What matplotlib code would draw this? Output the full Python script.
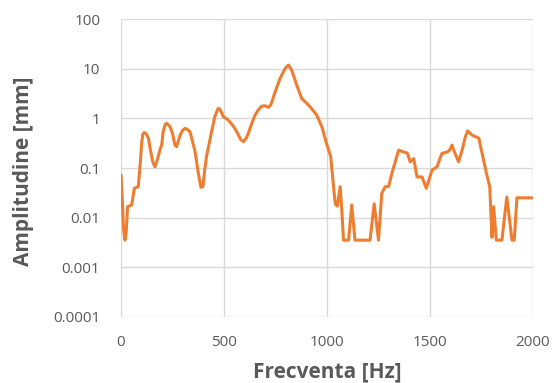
import matplotlib
matplotlib.use("Agg")
import matplotlib.pyplot as plt
from matplotlib.ticker import FixedLocator, FixedFormatter, NullLocator

freq = [0, 5, 12, 19, 25, 32, 52, 65, 84, 95, 100, 106, 113, 124, 133, 143, 155, 165,
        175, 189, 198, 205, 214, 222, 238, 250, 262, 270, 287, 300, 311, 322, 335, 359,
        375, 388, 398, 406, 415, 431, 455, 471, 480, 497, 515, 529, 545, 562, 580, 594,
        608, 618, 635, 651, 667, 683, 700, 716, 728, 748, 772, 797, 813, 829, 853, 877,
        900, 918, 935, 950, 975, 999, 1018, 1030, 1040, 1050, 1064, 1072, 1080, 1105,
        1120, 1136, 1209, 1229, 1250, 1266, 1283, 1299, 1315, 1348, 1372, 1390, 1404,
        1421, 1437, 1461, 1482, 1510, 1534, 1558, 1583, 1595, 1607, 1615, 1639, 1656,
        1672, 1683, 1704, 1737, 1753, 1774, 1790, 1801, 1809, 1822, 1849, 1873, 1898,
        1909, 1922, 2000]
amp = [0.072, 0.03, 0.006, 0.0035, 0.005, 0.0166, 0.018, 0.039, 0.042, 0.15, 0.31, 0.48,
       0.52, 0.48, 0.40, 0.23, 0.13, 0.106, 0.14, 0.23, 0.30, 0.55, 0.75, 0.80, 0.68,
       0.50, 0.29, 0.27, 0.46, 0.58, 0.63, 0.60, 0.54, 0.22, 0.08, 0.041, 0.042, 0.09,
       0.17, 0.36, 1.07, 1.59, 1.55, 1.08, 0.97, 0.85, 0.70, 0.54, 0.38, 0.34, 0.40,
       0.50, 0.80, 1.17, 1.5, 1.77, 1.8, 1.67, 1.9, 3.4, 6.4, 10.2, 11.9, 9.4, 4.7, 2.53,
       2.05, 1.71, 1.4, 1.17, 0.68, 0.30, 0.17, 0.05, 0.019, 0.017, 0.042, 0.014, 0.0035,
       0.0035, 0.018, 0.0035, 0.0035, 0.019, 0.0035, 0.031, 0.042, 0.042, 0.078, 0.23,
       0.21, 0.2, 0.133, 0.155, 0.066, 0.066, 0.039, 0.091, 0.106, 0.197, 0.21, 0.23,
       0.29, 0.23, 0.133, 0.23, 0.43, 0.56, 0.46, 0.40, 0.197, 0.078, 0.042, 0.004,
       0.0166, 0.0035, 0.0035, 0.026, 0.0035, 0.0035, 0.025, 0.025]

x_ticks = [0, 500, 1000, 1500, 2000]
y_ticks = [0.0001, 0.001, 0.01, 0.1, 1, 10, 100]
y_tick_labels = ["0.0001", "0.001", "0.01", "0.1", "1", "10", "100"]

plt.rcParams['font.family'] = ['Open Sans', 'DejaVu Sans']

fig = plt.figure(figsize=(5.52, 3.83), dpi=100)
ax = fig.add_axes([121/552, 1-316.7/383, (533-121)/552, (316.7-19.3)/383])

ax.plot(freq, amp, color='#ED7D31', linewidth=2.2, solid_joinstyle='round',
        solid_capstyle='round')
ax.set_yscale('log')
ax.set_xlim(0, 2000)
ax.set_ylim(0.0001, 100)
ax.xaxis.set_major_locator(FixedLocator(x_ticks))
ax.yaxis.set_major_locator(FixedLocator(y_ticks))
ax.yaxis.set_major_formatter(FixedFormatter(y_tick_labels))
ax.yaxis.set_minor_locator(NullLocator())
ax.grid(True, color='#d9d9d9', linewidth=1.0)
ax.set_axisbelow(True)
for s in ax.spines.values():
    s.set_visible(False)
ax.tick_params(length=0, labelsize=11, labelcolor='#595959')
ax.tick_params(axis='y', pad=15)
ax.tick_params(axis='x', pad=13)

fig.text(327/552, 1-372/383, 'Frecventa [Hz]', fontsize=15, fontweight='bold',
         color='#595959', ha='center', va='center')
fig.text(24/552, 1-171/383, 'Amplitudine [mm]', fontsize=15, fontweight='bold',
         color='#595959', ha='center', va='center', rotation=90)
fig.savefig('out.png', dpi=100)
